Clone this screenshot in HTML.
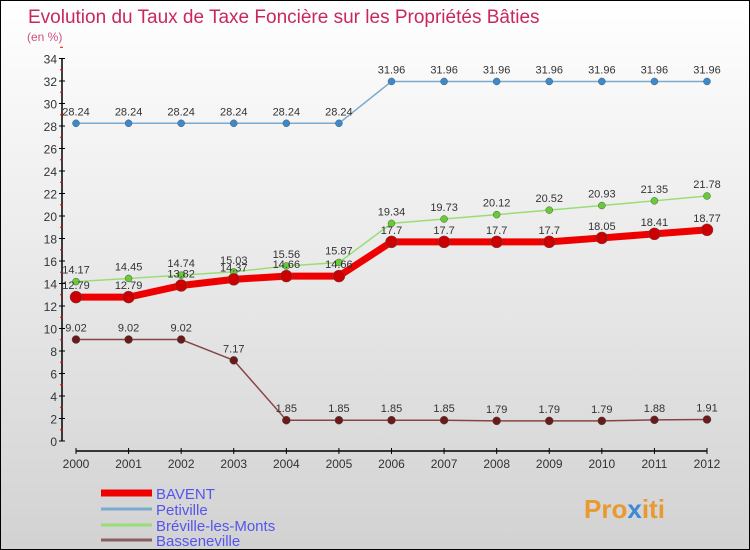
<!DOCTYPE html>
<html><head><meta charset="utf-8"><style>
body{margin:0}
#c{width:750px;height:550px;position:relative;box-sizing:border-box;border:1px solid #000;background:linear-gradient(#ffffff,#d2d2d2);font-family:"Liberation Sans",sans-serif;overflow:hidden}
</style></head><body>
<div id="c">
<svg id="s" width="750" height="550" style="position:absolute;left:0;top:0">
<text x="27" y="22" font-size="19" fill="#c8285a">Evolution du Taux de Taxe Foncière sur les Propriétés Bâties</text>
<text x="26" y="40" font-size="12" fill="#d05080">(en %)</text>
<text x="583" y="517" font-size="26" font-weight="bold" fill="#e89a30">Pro<tspan fill="#3a8ad8">x</tspan>iti</text>
</svg>
</div>
<script>
const years=[2000,2001,2002,2003,2004,2005,2006,2007,2008,2009,2010,2011,2012];
const bavent=[12.79,12.79,13.82,14.37,14.66,14.66,17.7,17.7,17.7,17.7,18.05,18.41,18.77];
const petiville=[28.24,28.24,28.24,28.24,28.24,28.24,31.96,31.96,31.96,31.96,31.96,31.96,31.96];
const breville=[14.17,14.45,14.74,15.03,15.56,15.87,19.34,19.73,20.12,20.52,20.93,21.35,21.78];
const basseneville=[9.02,9.02,9.02,7.17,1.85,1.85,1.85,1.85,1.79,1.79,1.79,1.88,1.91];
const yTicks=[0,2,4,6,8,10,12,14,16,18,20,22,24,26,28,30,32,34];
const names=["BAVENT","Petiville","Bréville-les-Monts","Basseneville"];
const s=document.getElementById('s');const NS='http://www.w3.org/2000/svg';
const X=i=>75+i*(706-75)/(years.length-1);
const Y=v=>440-v*(440-57.5)/34;
function el(t,a,p){const e=document.createElementNS(NS,t);for(const k in a)e.setAttribute(k,a[k]);(p||s).appendChild(e);return e;}
// y axis
let ya=el('line',{x1:61,y1:57,x2:61,y2:440,stroke:'#000','stroke-width':1.5});


yTicks.forEach(v=>{
 el('line',{x1:58,y1:Y(v),x2:64,y2:Y(v),stroke:'#000'});
 el('line',{x1:59,y1:Y(v+1),x2:62,y2:Y(v+1),stroke:'#e00'});
 const t=el('text',{x:56,y:Y(v)+5,'font-size':12,fill:'#333','text-anchor':'end'});t.textContent=v;
 
 
});
let xa=el('line',{x1:75,y1:450,x2:706,y2:450,stroke:'#000','stroke-width':1.5});


years.forEach((y,i)=>{
 el('line',{x1:X(i),y1:447,x2:X(i),y2:453,stroke:'#000'});
 const t=el('text',{x:X(i),y:467,'font-size':12,fill:'#333','text-anchor':'middle'});t.textContent=y;
 
 
});
function series(d,col,w,r,mcol,name){
 const g=el('g',{});
 
 
 el('polyline',{points:d.map((v,i)=>X(i)+','+Y(v)).join(' '),fill:'none',stroke:col,'stroke-width':w,'stroke-linejoin':'round'},g);
 d.forEach((v,i)=>{
  const c=el('circle',{cx:X(i),cy:Y(v),r:r,fill:mcol,stroke:'#555','stroke-width':0.5},g);
  
  
  const t=el('text',{x:X(i),y:Y(v)-8,'font-size':11,fill:'#333','text-anchor':'middle'},g);t.textContent=v;
 });
}
series(petiville,'#7aaad0',1.5,3.5,'#3a8ad0','series-petiville');
series(breville,'#99dd77',1.5,3.5,'#66cc33','series-breville');
series(basseneville,'#884444',1.5,4,'#6a1a1a','series-basseneville');
series(bavent,'#ee0000',7,6,'#cc0000','series-bavent');
const lc=['#ee0000','#7aaad0','#99dd77','#886060'],lw=[7,3,3,3],ly=[492,508,524,539];
names.forEach((n,i)=>{
 const g=el('g',{});
 
 
 el('line',{x1:100,y1:ly[i],x2:151,y2:ly[i],stroke:lc[i],'stroke-width':lw[i]},g);
 const t=el('text',{x:155,y:ly[i]+6,'font-size':15,fill:'#5555ee'},g);t.textContent=n;
});
</script>
</body></html>
